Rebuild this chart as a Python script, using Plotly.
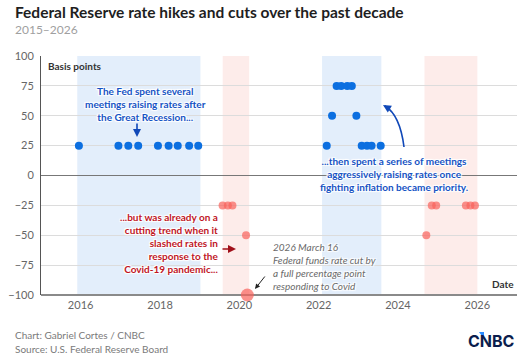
import plotly.graph_objects as go

# ---------------- data ----------------
hike_dates = ["2015-12-16", "2016-12-14", "2017-03-15", "2017-06-14", "2017-12-13",
              "2018-03-21", "2018-06-13", "2018-09-26", "2018-12-19",
              "2022-03-16", "2022-05-04", "2022-06-15", "2022-07-27", "2022-09-21",
              "2022-11-02", "2022-12-14", "2023-02-01", "2023-03-22", "2023-05-03",
              "2023-07-26"]
hike_bps = [25, 25, 25, 25, 25, 25, 25, 25, 25,
            25, 50, 75, 75, 75, 75, 50, 25, 25, 25, 25]

cut_dates = ["2019-07-31", "2019-09-18", "2019-10-30", "2020-03-03", "2020-03-15",
             "2024-09-18", "2024-11-07", "2024-12-18",
             "2025-09-17", "2025-10-29", "2025-12-10"]
cut_bps = [-25, -25, -25, -50, -100, -50, -25, -25, -25, -25, -25]

hike_periods = [("2015-12-01", "2019-01-08"), ("2022-02-01", "2023-08-01")]
cut_periods = [("2019-08-01", "2020-04-01"), ("2024-09-01", "2026-01-01")]

x_ticks = ["2016-01-01", "2018-01-01", "2020-01-01", "2022-01-01", "2024-01-01", "2026-01-01"]
x_tick_labels = ["2016", "2018", "2020", "2022", "2024", "2026"]
y_ticks = [100, 75, 50, 25, 0, -25, -50, -75, -100]

# ---------------- style ----------------
W, H = 524, 359
L, R, T, B = 41, 7, 56, 64
PW, PH = W - L - R, H - T - B
FONT = "Lato"
BLUE = "#0c6fe0"
RED = "#f8625b"
BLUE_TXT = "#1553c4"
RED_TXT = "#c0151f"
HALO = "1px 1px 1px #fff, -1px -1px 1px #fff, 1px -1px 1px #fff, -1px 1px 1px #fff, 0 0 2px #fff"


def px(xp):
    return (xp - L) / PW


def py(yp):
    return (H - B - yp) / PH


fig = go.Figure()

fig.add_trace(go.Scatter(x=hike_dates, y=hike_bps, mode="markers",
                         marker=dict(color=BLUE, size=8, line=dict(width=0)),
                         cliponaxis=False, showlegend=False, hoverinfo="x+y"))
fig.add_trace(go.Scatter(x=cut_dates, y=cut_bps, mode="markers",
                         marker=dict(color=RED, size=[13 if v <= -100 else 8 for v in cut_bps],
                                     line=dict(width=0)),
                         cliponaxis=False, showlegend=False, hoverinfo="x+y"))

shapes = []
for a, b in hike_periods:
    shapes.append(dict(type="rect", xref="x", yref="paper", x0=a, x1=b, y0=0, y1=1,
                       fillcolor="#e3eefb", line=dict(width=0), layer="below"))
for a, b in cut_periods:
    shapes.append(dict(type="rect", xref="x", yref="paper", x0=a, x1=b, y0=0, y1=1,
                       fillcolor="#fdecea", line=dict(width=0), layer="below"))
# thick bottom baseline at -100
shapes.append(dict(type="line", xref="paper", yref="paper", x0=0, x1=1, y0=0, y1=0,
                   line=dict(color="#8a8a8a", width=2), layer="below"))

# curved arrow for second blue annotation (paper coords)
shapes.append(dict(type="path", xref="paper", yref="paper",
                   path=f"M {px(404)},{py(147)} Q {px(400)},{py(115)} {px(385)},{py(106)}",
                   line=dict(color="#1048b8", width=1.6)))
# CNBC blue wedge
shapes.append(dict(type="path", xref="paper", yref="paper",
                   path=f"M {px(479)},{py(332)} L {px(484)},{py(332)} L {px(484)},{py(339)} Z",
                   fillcolor="#2a8cff", line=dict(width=0)))

annotations = []
# title / subtitle
annotations.append(dict(xref="paper", yref="paper", x=px(13), y=py(12), xanchor="left", yanchor="middle",
                        text="<b>Federal Reserve rate hikes and cuts over the past decade</b>",
                        showarrow=False, font=dict(family=FONT, size=15.5, color="#1e1e1e")))
annotations.append(dict(xref="paper", yref="paper", x=px(13), y=py(29), xanchor="left", yanchor="middle",
                        text="2015\u20132026", showarrow=False,
                        font=dict(family=FONT, size=12, color="#a0a0a0")))
# axis labels
annotations.append(dict(xref="paper", yref="paper", x=px(46), y=1, xanchor="left", yanchor="top",
                        yshift=-2, text="<b>Basis points</b>", showarrow=False,
                        font=dict(family=FONT, size=10, color="#333333")))
annotations.append(dict(xref="paper", yref="paper", x=1, y=0, xanchor="right", yanchor="bottom",
                        xshift=-1, yshift=3, text="<b>Date</b>", showarrow=False,
                        font=dict(family=FONT, size=10, color="#333333")))
# blue annotation 1
annotations.append(dict(xref="paper", yref="paper", x=px(145), y=py(104), xanchor="center", yanchor="middle",
                        text="<b>The Fed spent several<br>meetings raising rates after<br>the Great Recession...</b>",
                        showarrow=False, align="center",
                        font=dict(family=FONT, size=10, color=BLUE_TXT, shadow=HALO)))
annotations.append(dict(xref="paper", yref="paper", x=px(137), y=py(137), ax=0, ay=-15,
                        text="", showarrow=True,
                        arrowhead=2, arrowsize=1, arrowwidth=1.6, arrowcolor="#1048b8"))
# blue annotation 2
annotations.append(dict(xref="paper", yref="paper", x=px(394), y=py(174), xanchor="center", yanchor="middle",
                        text="<b>...then spent a series of meetings<br>aggressively raising rates once<br>fighting inflation became priority.</b>",
                        showarrow=False, align="center",
                        font=dict(family=FONT, size=10, color=BLUE_TXT, shadow=HALO)))
annotations.append(dict(xref="paper", yref="paper", x=px(383), y=py(105), ax=5, ay=3,
                        text="", showarrow=True,
                        arrowhead=2, arrowsize=1, arrowwidth=1.6, arrowcolor="#1048b8"))
# red annotation
annotations.append(dict(xref="paper", yref="paper", x=px(220), y=py(243), xanchor="right", yanchor="middle",
                        text="<b>...but was already on a<br>cutting trend when it<br>slashed rates in<br>response to the<br>Covid-19 pandemic...</b>",
                        showarrow=False, align="right",
                        font=dict(family=FONT, size=10, color=RED_TXT, shadow=HALO)))
annotations.append(dict(xref="paper", yref="paper", x=px(236), y=py(249), ax=-15, ay=0,
                        text="", showarrow=True,
                        arrowhead=2, arrowsize=1, arrowwidth=1.6, arrowcolor="#a0101a"))
# grey annotation
annotations.append(dict(xref="paper", yref="paper", x=px(271), y=py(266), xanchor="left", yanchor="middle",
                        text="<i>2026 March 16<br>Federal funds rate cut by<br>a full percentage point<br>responding to Covid</i>",
                        showarrow=False, align="left",
                        font=dict(family=FONT, size=10, color="#6a6a6a", shadow=HALO)))
annotations.append(dict(xref="paper", yref="paper", x=px(255), y=py(289), ax=11, ay=-14,
                        text="", showarrow=True,
                        arrowhead=2, arrowsize=1, arrowwidth=1, arrowcolor="#222222"))
# footer
annotations.append(dict(xref="paper", yref="paper", x=px(13), y=py(335), xanchor="left", yanchor="middle",
                        text="Chart: Gabriel Cortes / CNBC", showarrow=False,
                        font=dict(family=FONT, size=10, color="#7a7a7a")))
annotations.append(dict(xref="paper", yref="paper", x=px(13), y=py(349), xanchor="left", yanchor="middle",
                        text="Source: U.S. Federal Reserve Board", showarrow=False,
                        font=dict(family=FONT, size=10, color="#7a7a7a")))
annotations.append(dict(xref="paper", yref="paper", x=px(491), y=py(341), xanchor="center", yanchor="middle",
                        text="<b>CNBC</b>", showarrow=False,
                        font=dict(family="Inter", size=16, color="#0b1d4d")))

fig.update_layout(
    width=W, height=H,
    margin=dict(l=L, r=R, t=T, b=B),
    paper_bgcolor="white", plot_bgcolor="white",
    font=dict(family=FONT, size=11, color="#666666"),
    shapes=shapes, annotations=annotations,
    xaxis=dict(type="date", range=["2015-01-01", "2027-01-01"],
               tickvals=x_ticks, ticktext=x_tick_labels, ticks="",
               showgrid=False, zeroline=False, showline=False,
               tickfont=dict(size=11, color="#666666"), ticklabelstandoff=2),
    yaxis=dict(range=[-100, 100], tickvals=y_ticks, ticks="",
               showgrid=True, gridcolor="#dcdcdc", gridwidth=1,
               zeroline=True, zerolinecolor="#777777", zerolinewidth=1,
               showline=True, linecolor="#555555", linewidth=1, mirror=False,
               tickfont=dict(size=11, color="#666666"), ticklabelstandoff=4),
)

fig.write_html("out.html")
